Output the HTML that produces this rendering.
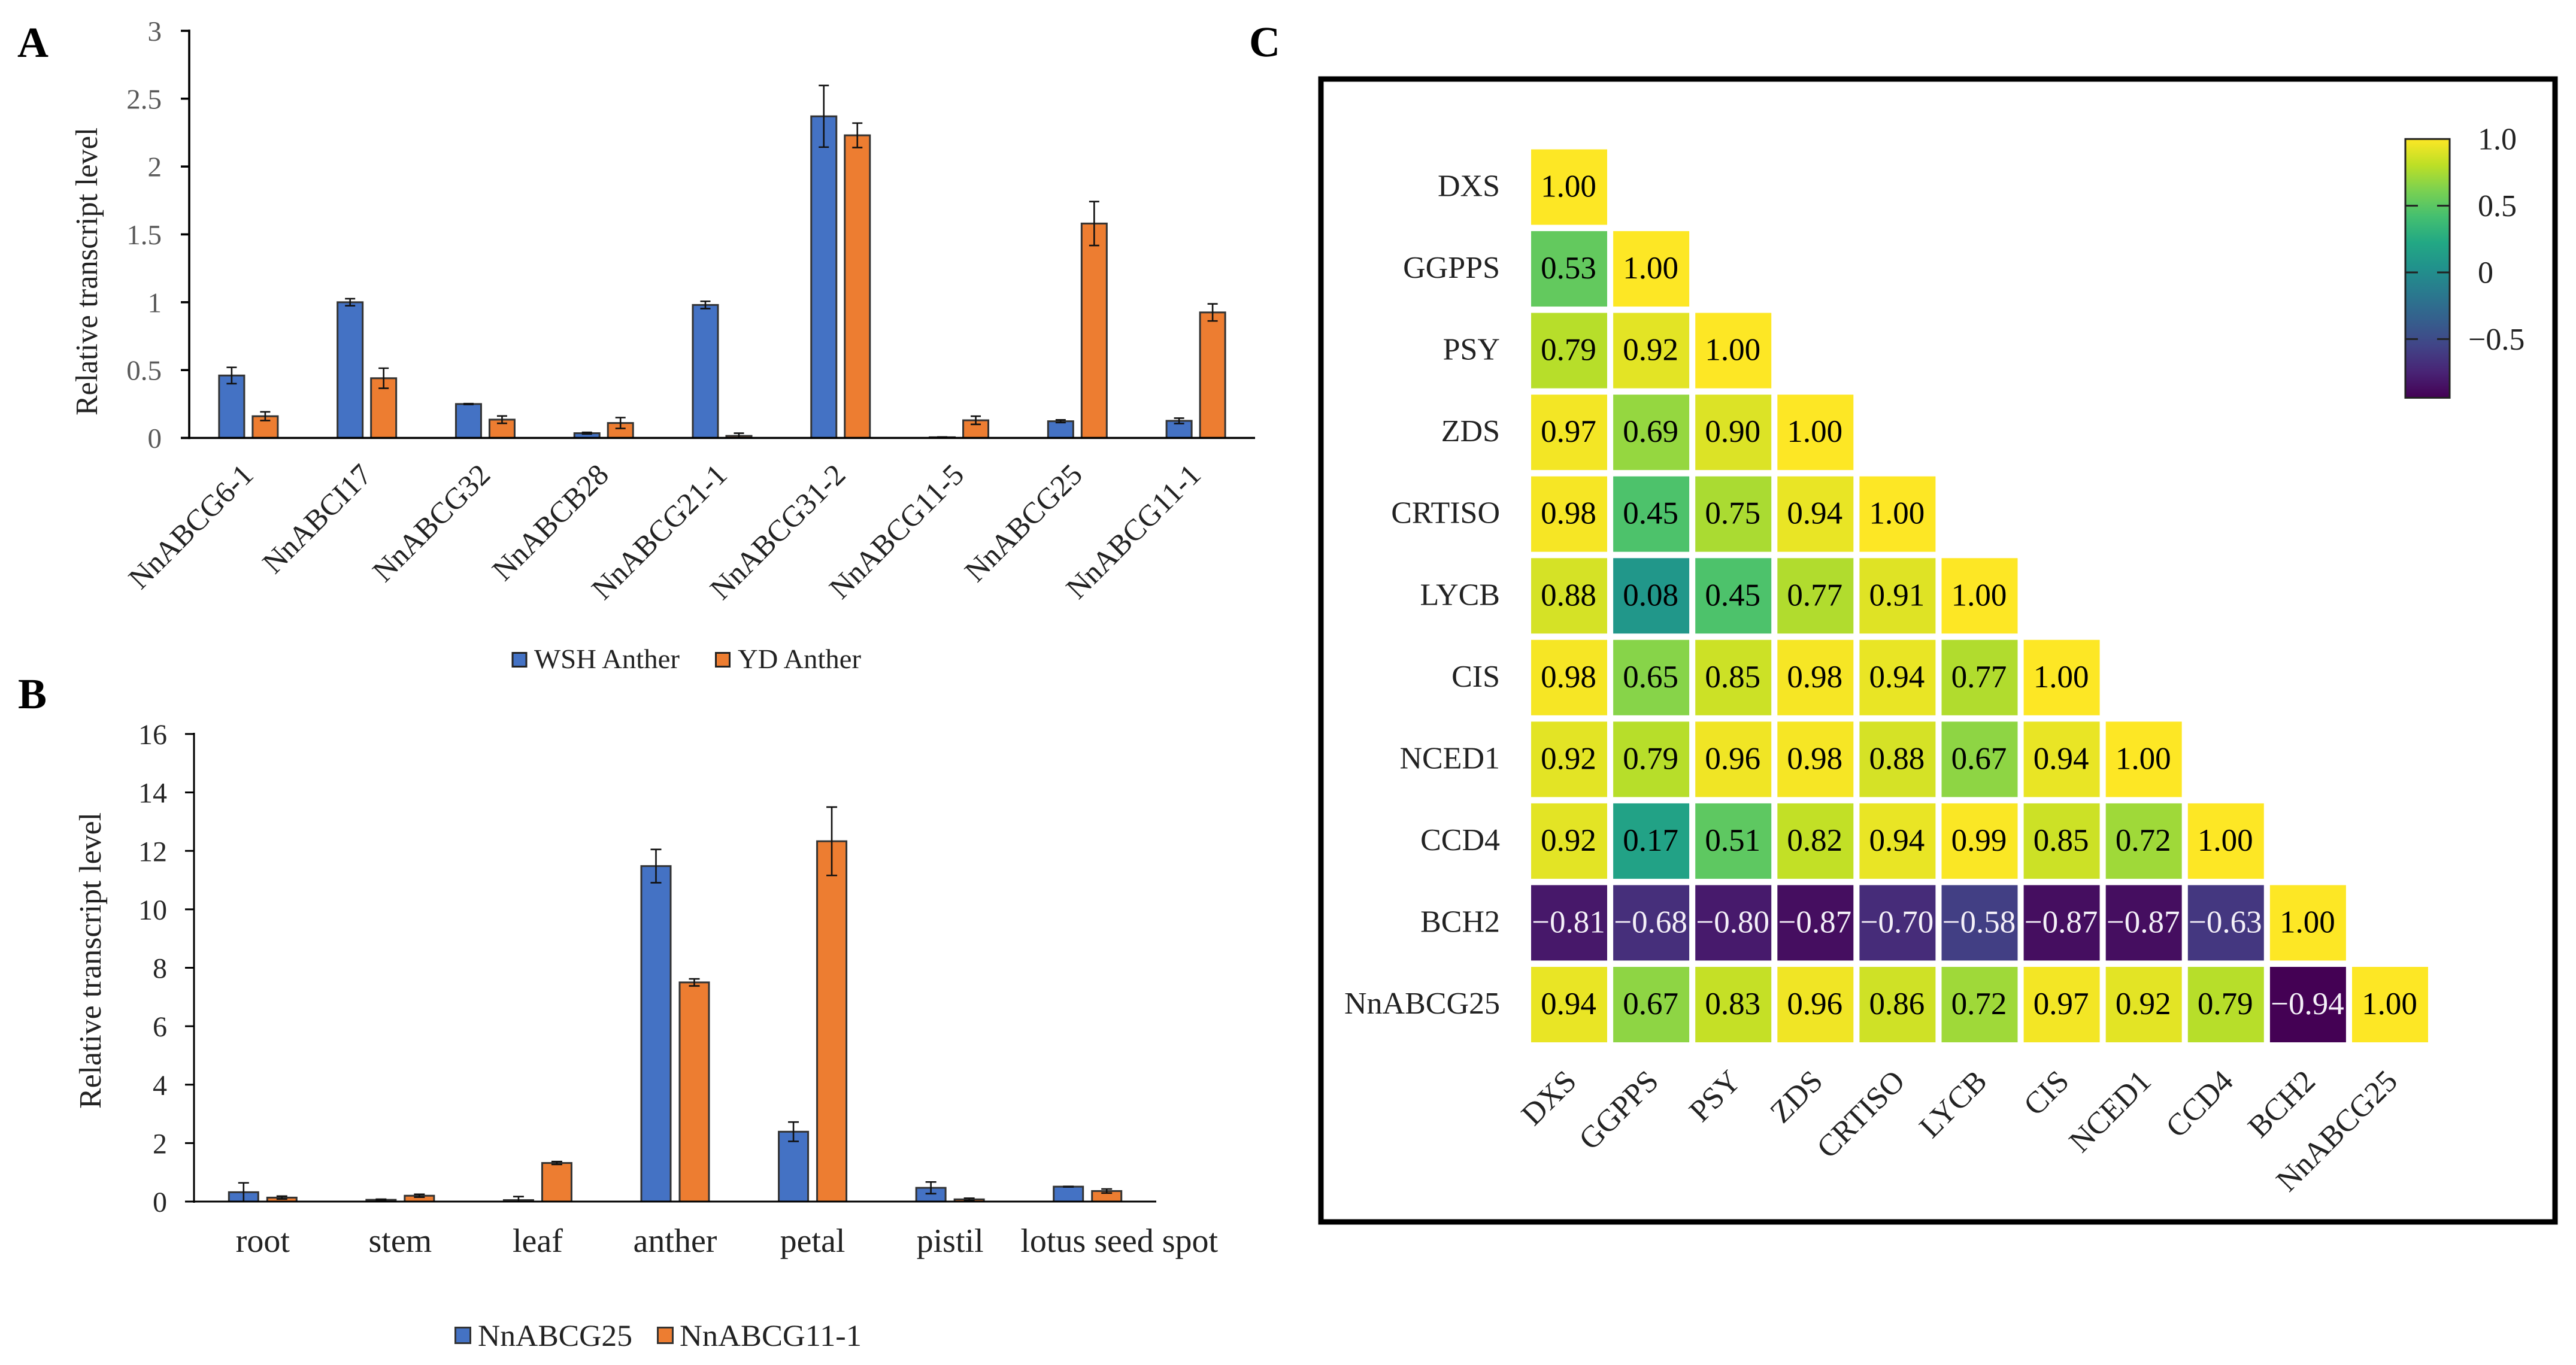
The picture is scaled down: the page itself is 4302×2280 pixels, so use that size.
<!DOCTYPE html>
<html lang="en">
<head>
<meta charset="utf-8">
<title>Relative transcript levels and correlation heatmap</title>
<style>
html,body{margin:0;padding:0;background:#fff;}
svg{display:block;}
text{font-family:"Liberation Serif","DejaVu Serif",serif;text-rendering:geometricPrecision;}
</style>
</head>
<body>
<svg id="figure" xmlns="http://www.w3.org/2000/svg" width="4302" height="2280" viewBox="0 0 4302 2280">
  <rect x="0" y="0" width="4302" height="2280" fill="#ffffff"/>

  <text x="29" y="95" font-size="72" font-weight="bold" fill="#000">A</text>
  <text x="30" y="1183" font-size="72" font-weight="bold" fill="#000">B</text>
  <text x="2086" y="94" font-size="72" font-weight="bold" fill="#000">C</text>

  <g id="chart-a"></g>
  <text transform="translate(162,694) rotate(-90)" font-size="52" textLength="481" lengthAdjust="spacingAndGlyphs" fill="#222">Relative transcript level</text>
  <g>
    <rect x="856" y="1090.5" width="23" height="23" fill="#4472C4" stroke="#222" stroke-width="3"/>
    <text x="892" y="1116" font-size="46" textLength="243" lengthAdjust="spacingAndGlyphs" fill="#222">WSH Anther</text>
    <rect x="1195.5" y="1090.5" width="23" height="23" fill="#ED7D31" stroke="#222" stroke-width="3"/>
    <text x="1232" y="1116" font-size="46" textLength="206" lengthAdjust="spacingAndGlyphs" fill="#222">YD Anther</text>
  </g>

  <g id="chart-b"></g>
  <text transform="translate(168,1852) rotate(-90)" font-size="52" textLength="495" lengthAdjust="spacingAndGlyphs" fill="#222">Relative transcript level</text>
  <g>
    <rect x="760.5" y="2217.5" width="25" height="26" fill="#4472C4" stroke="#333" stroke-width="3"/>
    <text x="798" y="2248" font-size="51" textLength="258" lengthAdjust="spacingAndGlyphs" fill="#222">NnABCG25</text>
    <rect x="1098.5" y="2217.5" width="25" height="26" fill="#ED7D31" stroke="#333" stroke-width="3"/>
    <text x="1135" y="2248" font-size="51" textLength="304" lengthAdjust="spacingAndGlyphs" fill="#222">NnABCG11-1</text>
  </g>

  <rect x="2206" y="132" width="2061" height="1909" fill="none" stroke="#000" stroke-width="9"/>
  <g id="heatmap"></g>
  <defs>
    <linearGradient id="viridis-gradient" x1="0" y1="1" x2="0" y2="0"></linearGradient>
  </defs>
  <g id="colorbar"></g>
</svg>

<script>
// Panel A data
const catsA = ['NnABCG6-1','NnABCI17','NnABCG32','NnABCB28','NnABCG21-1','NnABCG31-2','NnABCG11-5','NnABCG25','NnABCG11-1'];
const wshValues = [0.46,1.00,0.25,0.035,0.98,2.37,0.005,0.123,0.126];
const wshErrors = [0.06,0.026,0.003,0.006,0.027,0.227,0.002,0.01,0.02];
const ydValues = [0.16,0.44,0.135,0.11,0.015,2.23,0.13,1.58,0.925];
const ydErrors = [0.032,0.074,0.027,0.04,0.02,0.09,0.03,0.162,0.063];
const ticksA = [0,0.5,1,1.5,2,2.5,3];

// Panel B data
const catsB = ['root','stem','leaf','anther','petal','pistil','lotus seed spot'];
const abcg25Values = [0.32,0.06,0.05,11.48,2.39,0.47,0.51];
const abcg25Errors = [0.32,0.02,0.12,0.57,0.33,0.2,0.01];
const abcg11Values = [0.135,0.2,1.32,7.5,12.33,0.075,0.36];
const abcg11Errors = [0.05,0.05,0.05,0.12,1.17,0.04,0.07];
const ticksB = [0,2,4,6,8,10,12,14,16];

// Panel C data
const heatLabels = ['DXS','GGPPS','PSY','ZDS','CRTISO','LYCB','CIS','NCED1','CCD4','BCH2','NnABCG25'];
const heatValues = [
  [1.00],
  [0.53,1.00],
  [0.79,0.92,1.00],
  [0.97,0.69,0.90,1.00],
  [0.98,0.45,0.75,0.94,1.00],
  [0.88,0.08,0.45,0.77,0.91,1.00],
  [0.98,0.65,0.85,0.98,0.94,0.77,1.00],
  [0.92,0.79,0.96,0.98,0.88,0.67,0.94,1.00],
  [0.92,0.17,0.51,0.82,0.94,0.99,0.85,0.72,1.00],
  [-0.81,-0.68,-0.80,-0.87,-0.70,-0.58,-0.87,-0.87,-0.63,1.00],
  [0.94,0.67,0.83,0.96,0.86,0.72,0.97,0.92,0.79,-0.94,1.00]
];
const colorbarTicks = [1,0.5,0,-0.5];
const colorbarTickLabels = ['1.0','0.5','0','\u22120.5'];
const colorMin = -0.94;
const colorMax = 1;
const viridisStops = ['#440154','#482475','#414487','#355f8d','#2a788e','#21918c','#22a884','#44bf70','#7ad151','#bddf26','#fde725'];

const NS = 'http://www.w3.org/2000/svg';
function mk(tag, attrs, parent, txt){
  const el = document.createElementNS(NS, tag);
  for(const k in attrs){ el.setAttribute(k, attrs[k]); }
  if(txt !== undefined){ el.textContent = txt; }
  parent.appendChild(el);
  return el;
}
function slug(s){ return String(s).toLowerCase().replace(/[^a-z0-9]+/g,'-'); }

function drawChart(cfg){
  const g = document.getElementById(cfg.id);
  const y = v => cfg.y0 - (v - cfg.min) / (cfg.max - cfg.min) * (cfg.y0 - cfg.yTop);
  const band = (cfg.xEnd - cfg.xAxis) / cfg.cats.length;
  const center = i => cfg.xAxis + band * (i + 0.5);

  // bars + error bars
  cfg.series.forEach(s => {
    s.values.forEach((v, i) => {
      const cx = center(i) + s.offset;
      const top = y(v);
      const bar = mk('rect', {x: cx - cfg.barW/2 + 1.5, y: top, width: cfg.barW - 3, height: Math.max(cfg.y0 - top, 0.5), fill: s.color, stroke: '#333', 'stroke-width': 3}, g);
      
      

      const e = s.errors[i];
      const yHi = y(v + e);
      const yLo = Math.min(y(v - e), cfg.y0);
      const err = mk('path', {
        d: 'M' + cx + ' ' + yHi + 'V' + yLo + 'M' + (cx - cfg.cap) + ' ' + yHi + 'H' + (cx + cfg.cap) +
           (y(v - e) < cfg.y0 ? 'M' + (cx - cfg.cap) + ' ' + yLo + 'H' + (cx + cfg.cap) : ''),
        fill: 'none', stroke: '#111', 'stroke-width': 2.6}, g);
      
      
    });
  });

  // axes
  const yAxis = mk('line', {x1: cfg.xAxis, x2: cfg.xAxis, y1: cfg.yTop - 2, y2: cfg.y0 + 2, stroke: '#000', 'stroke-width': cfg.axisW}, g);
  
  
  const xAxis = mk('line', {x1: cfg.tickLeft, x2: cfg.xEnd, y1: cfg.y0, y2: cfg.y0, stroke: '#000', 'stroke-width': cfg.axisW}, g);
  
  

  cfg.ticks.forEach(t => {
    const tick = mk('line', {x1: cfg.tickLeft, x2: cfg.xAxis, y1: y(t), y2: y(t), stroke: '#000', 'stroke-width': cfg.axisW}, g);
    
    
    const lab = mk('text', {x: cfg.tickLabelRight, y: y(t) + cfg.tickDy, 'text-anchor': 'end', 'font-size': cfg.tickFont, fill: cfg.tickColor}, g, String(t));
    
    
  });

  cfg.cats.forEach((c, i) => {
    const lab = cfg.rotated
      ? mk('text', {transform: 'translate(' + (center(i) + cfg.labelDx) + ',' + cfg.labelY + ') rotate(-45)', 'text-anchor': 'end', 'font-size': cfg.labelFont, fill: '#222'}, g, c)
      : mk('text', {x: center(i) + (c.length > 10 ? cfg.longLabelDx : 0), y: cfg.labelY, 'text-anchor': 'middle', 'font-size': cfg.labelFont, fill: '#222'}, g, c);
    
    
  });
}

drawChart({
  id: 'chart-a', tag: 'a', cats: catsA, ticks: ticksA, min: 0, max: 3,
  xAxis: 316, xEnd: 2096, tickLeft: 302, y0: 731.5, yTop: 51.5,
  barW: 45, cap: 8.5, axisW: 3.6,
  tickLabelRight: 270, tickDy: 16.5, tickFont: 47, tickColor: '#595959',
  rotated: true, labelDx: 11, labelY: 796, labelFont: 50.5,
  series: [
    {key: 'wsh-anther', values: wshValues, errors: wshErrors, color: '#4472C4', offset: -28},
    {key: 'yd-anther', values: ydValues, errors: ydErrors, color: '#ED7D31', offset: 28}
  ]
});

drawChart({
  id: 'chart-b', tag: 'b', cats: catsB, ticks: ticksB, min: 0, max: 16,
  xAxis: 324, xEnd: 1931, tickLeft: 309, y0: 2007, yTop: 1226,
  barW: 52, cap: 9, axisW: 3,
  tickLabelRight: 279, tickDy: 17, tickFont: 48, tickColor: '#262626',
  rotated: false, labelY: 2091, labelFont: 56, longLabelDx: 53,
  series: [
    {key: 'nnabcg25', values: abcg25Values, errors: abcg25Errors, color: '#4472C4', offset: -32},
    {key: 'nnabcg11-1', values: abcg11Values, errors: abcg11Errors, color: '#ED7D31', offset: 32}
  ]
});

// viridis colour scale
function hexToRgb(h){ return [parseInt(h.substr(1,2),16), parseInt(h.substr(3,2),16), parseInt(h.substr(5,2),16)]; }
function colorFor(v){
  const t = Math.min(1, Math.max(0, (v - colorMin) / (colorMax - colorMin))) * (viridisStops.length - 1);
  const i = Math.min(Math.floor(t), viridisStops.length - 2);
  const a = hexToRgb(viridisStops[i]);
  const b = hexToRgb(viridisStops[i + 1]);
  const f = t - i;
  return 'rgb(' + a.map((c, k) => Math.round(c + (b[k] - c) * f)).join(',') + ')';
}
function fmt(v){ return (v < 0 ? '\u2212' : '') + Math.abs(v).toFixed(2); }

// heatmap
(function(){
  const g = document.getElementById('heatmap');
  const colX = c => 2557 + c * 137.1;
  const rowY = r => 249.5 + r * 136.55;
  const cellW = 127;
  const cellH = 126;
  heatValues.forEach((row, r) => {
    const rl = mk('text', {x: 2505, y: rowY(r) + cellH/2 + 15, 'text-anchor': 'end', 'font-size': 52, fill: '#222'}, g, heatLabels[r]);
    
    
    row.forEach((v, c) => {
      const cell = mk('rect', {x: colX(c), y: rowY(r), width: cellW, height: cellH, fill: colorFor(v)}, g);
      
      
      const txt = mk('text', {x: colX(c) + cellW/2 - 1, y: rowY(r) + cellH/2 + 16, 'text-anchor': 'middle', 'font-size': 53, fill: v < 0 ? '#f4f0f8' : '#000'}, g, fmt(v));
      
      
    });
  });
  heatLabels.forEach((name, c) => {
    const lab = mk('text', {transform: 'translate(' + (colX(c) + cellW/2 + 15) + ',1809) rotate(-45)', 'text-anchor': 'end', 'font-size': 52, fill: '#222'}, g, name);
    
    
  });
})();

// colorbar
(function(){
  const grad = document.getElementById('viridis-gradient');
  viridisStops.forEach((col, i) => {
    mk('stop', {offset: i / (viridisStops.length - 1), 'stop-color': col}, grad);
  });
  const g = document.getElementById('colorbar');
  const barX = 4017;
  const barW = 74;
  const cy = v => 455 - v * 222.8;
  const bar = mk('rect', {x: barX, y: cy(colorMax), width: barW, height: cy(colorMin) - cy(colorMax), fill: 'url(#viridis-gradient)', stroke: '#222', 'stroke-width': 3}, g);
  
  
  colorbarTicks.forEach((t, i) => {
    if(t < colorMax){
      const tl = mk('line', {x1: barX, x2: barX + 21, y1: cy(t), y2: cy(t), stroke: '#222', 'stroke-width': 3}, g);
      
      
      const tr = mk('line', {x1: barX + barW - 21, x2: barX + barW, y1: cy(t), y2: cy(t), stroke: '#222', 'stroke-width': 3}, g);
      
      
    }
    const lab = mk('text', {x: t < 0 ? 4122 : 4138, y: cy(t) + 17.5, 'font-size': 52, fill: '#222'}, g, colorbarTickLabels[i]);
    
    
  });
})();
</script>
</body>
</html>
